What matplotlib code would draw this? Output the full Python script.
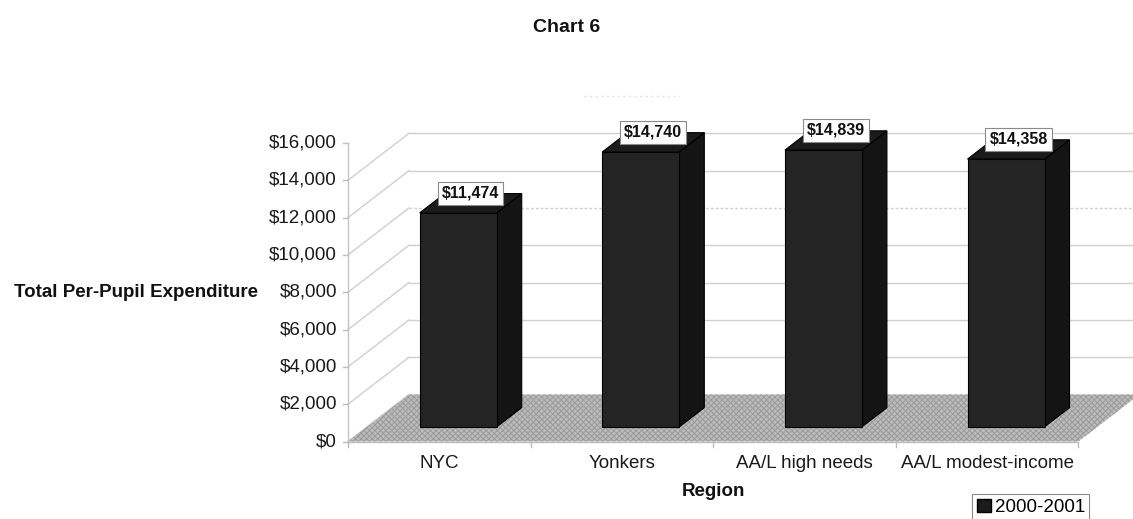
import matplotlib
matplotlib.use('Agg')
import matplotlib.pyplot as plt
from matplotlib.patches import Polygon, Patch

# datos del grafico
regiones = ['NYC', 'Yonkers', 'AA/L high needs', 'AA/L modest-income']
gasto = [11474, 14740, 14839, 14358]
ticks_y = [0, 2000, 4000, 6000, 8000, 10000, 12000, 14000, 16000]
serie = '2000-2001'

plt.rcParams['font.family'] = ['Liberation Sans', 'DejaVu Sans']

W_PX, H_PX = 1133, 519
X0 = 348.0            # pixel del eje frontal
PX_CAT = 182.6        # pixeles por categoria
Y0 = 441.5            # pixel (desde arriba) del valor 0
PPU = 298.5 / 16000   # pixeles por dolar

# profundidad del efecto 3D
DX = 61 / PX_CAT
DY = 47 / PPU
px = 1 / PPU          # un pixel en unidades de y

fig = plt.figure(figsize=(W_PX / 100, H_PX / 100), dpi=100)
ax = fig.add_axes([0, 0, 1, 1])
ax.set_xlim(-X0 / PX_CAT, (W_PX - X0) / PX_CAT)
ax.set_ylim(-(H_PX - Y0) / PPU, Y0 / PPU)
ax.axis('off')

n = len(regiones)
grid_c = '#cfcfcf'
txt_c = '#1a1a1a'

# paredes: lineas de la grilla
for v in ticks_y:
    if v < 16000:
        ax.plot([0, DX], [v, v + DY], color=grid_c, lw=1, zorder=1)
        ls = (0, (2, 1.5)) if v == 10000 else '-'
        ax.plot([DX, n + DX], [v + DY, v + DY], color=grid_c, lw=1, ls=ls, zorder=1)
    else:
        ax.plot([DX + 0.96, DX + 1.48], [v + DY, v + DY], color='#e2e2e2', lw=1,
                ls=(0, (1.5, 2.5)), zorder=1)
    ax.plot([-5 / PX_CAT, 0], [v, v], color='#bdbdbd', lw=1, zorder=1)
    ax.text(-11 / PX_CAT, v, '$' + format(v, ','), ha='right', va='center',
            fontsize=13.5, color=txt_c)

# eje vertical frontal
ax.plot([0, 0], [0, 16000], color='#c4c4c4', lw=1, zorder=1)

# piso gris con textura
plt.rcParams['hatch.linewidth'] = 0.7
piso = Polygon([(0, 0), (n, 0), (n + DX, DY), (DX, DY)], closed=True,
               facecolor='#bcbcbc', edgecolor='#9a9a9a', lw=0, hatch='xxxxxx', zorder=2)
ax.add_patch(piso)
ax.plot([0, n], [0, 0], color='#bdbdbd', lw=1, zorder=2)
for i in range(n + 1):
    ax.plot([i, i], [0, -5 * px], color='#bdbdbd', lw=1, zorder=2)

# barras 3D
ancho = 77 / PX_CAT
d0 = 0.31
dd = 0.41
for i, v in enumerate(gasto):
    xl = i + 0.5 - ancho / 2 + d0 * DX
    yb = d0 * DY
    ddx, ddy = dd * DX, dd * DY
    frente = Polygon([(xl, yb), (xl + ancho, yb), (xl + ancho, yb + v), (xl, yb + v)],
                     facecolor='#242424', edgecolor='#000000', lw=0.8, zorder=5)
    lado = Polygon([(xl + ancho, yb), (xl + ancho + ddx, yb + ddy),
                    (xl + ancho + ddx, yb + v + ddy), (xl + ancho, yb + v)],
                   facecolor='#141414', edgecolor='#000000', lw=0.8, zorder=4)
    tapa = Polygon([(xl, yb + v), (xl + ancho, yb + v),
                    (xl + ancho + ddx, yb + v + ddy), (xl + ddx, yb + v + ddy)],
                   facecolor='#1b1b1b', edgecolor='#000000', lw=0.8, zorder=4)
    for p in (lado, tapa, frente):
        ax.add_patch(p)
    ax.text(xl + ancho / 2 + ddx / 2, yb + v + ddy / 2 + 10 * px, '$' + format(v, ','),
            ha='center', va='center', fontsize=11.5, fontweight='bold', color='#111111',
            zorder=10,
            bbox=dict(boxstyle='square,pad=0.25', facecolor='white', edgecolor='#8a8a8a', lw=0.8))

# etiquetas de categorias
for i, r in enumerate(regiones):
    ax.text(i + 0.5, -22.5 * px, r, ha='center', va='center', fontsize=13.5, color=txt_c)

ax.text(n / 2, -49.5 * px, 'Region', ha='center', va='center', fontsize=13.5,
        fontweight='bold', color='#111111')
ax.text(-90 / PX_CAT, 8000, 'Total Per-Pupil Expenditure', ha='right', va='center',
        fontsize=13.5, fontweight='bold', color='#111111')

fig.text(567 / W_PX, 1 - 27 / H_PX, 'Chart 6', ha='center', va='center', fontsize=14,
         fontweight='bold', color='#111111')

leg = fig.legend(handles=[Patch(facecolor='#1b1b1b', edgecolor='#000000', label=serie)],
                 loc='upper left', bbox_to_anchor=(972 / W_PX, 1 - 494 / H_PX),
                 fancybox=False, edgecolor='#8a8a8a', fontsize=13.5, handlelength=0.75,
                 handleheight=0.75, handletextpad=0.2, borderpad=0.25, borderaxespad=0,
                 framealpha=1)
leg.get_frame().set_linewidth(0.8)

fig.savefig('out.png', dpi=100)
